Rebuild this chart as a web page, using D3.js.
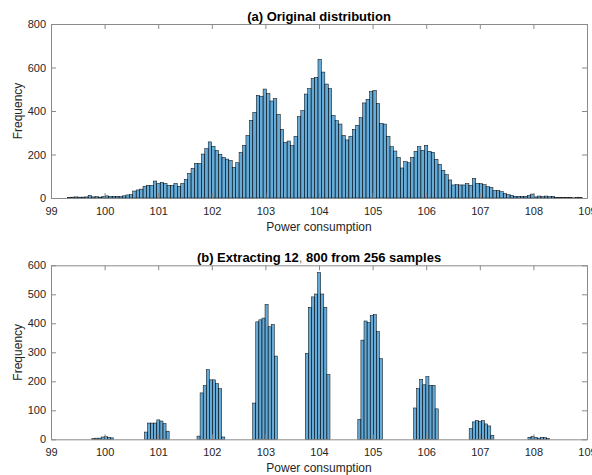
<!DOCTYPE html>
<html>
<head>
<meta charset="utf-8">
<script src="https://cdn.jsdelivr.net/npm/d3@7"></script>
<style>
  body { margin: 0; background: #fff; }
  svg { display: block; font-family: "Liberation Sans", Arial, Helvetica, sans-serif; }
</style>
</head>
<body>
<div id="chart"></div>
<script>
const WIDTH = 592
const HEIGHT = 475
const LEFT = 51
const RIGHT = 587

// (a) original distribution, 150 equal bins
const origStart = 99.309
const origWidth = 0.064
const origCounts = [
  2, 4, 5, 4, 4, 5, 12, 5, 6, 4, 8, 10, 7, 8, 8, 7, 10, 14, 15,
  32, 37, 41, 54, 58, 58, 78, 67, 72, 67, 58, 58, 67, 54, 67, 86, 113, 136, 159, 159, 202,
  227, 258, 238, 219, 201, 187, 179, 173, 141, 162, 210, 242, 288, 357, 394, 472, 468, 501, 481, 446,
  457, 385, 316, 256, 262, 241, 284, 374, 402, 478, 503, 549, 555, 638, 579, 524, 503, 380, 356, 340,
  288, 267, 284, 316, 334, 369, 437, 454, 490, 495, 435, 343, 340, 284, 236, 216, 187, 138, 167, 162,
  187, 215, 236, 219, 242, 215, 210, 178, 155, 127, 107, 83, 60, 61, 60, 60, 66, 58, 90, 67,
  66, 61, 52, 49, 34, 34, 29, 21, 15, 12, 8, 8, 8, 8, 12, 18, 5, 9, 6, 9,
  6, 8, 3, 3, 2, 2, 2, 1, 2, 3
]

// (b) 12,800 values drawn from 256 samples
const extStart = 99.762
const extWidth = 0.0577
const extCounts = [
  3, 4, 4, 8, 9, 7, 5, 0, 0, 0, 0, 0, 0, 0, 0, 0, 0,
  25, 56, 56, 56, 67, 63, 54, 28, 0, 0, 0, 0, 0, 0, 0, 0, 0,
  11, 160, 185, 240, 205, 205, 192, 175, 8, 0, 0, 0, 0, 0, 0, 0, 0, 0,
  125, 405, 412, 418, 465, 388, 396, 287, 0, 0, 0, 0, 0, 0, 0, 0, 0,
  296, 455, 491, 501, 575, 501, 455, 223, 0, 0, 0, 0, 0, 0, 0, 0, 0,
  69, 342, 408, 402, 427, 430, 371, 278, 0, 0, 0, 0, 0, 0, 0, 0, 0, 0,
  108, 175, 207, 188, 216, 186, 186, 105, 0, 0, 0, 0, 0, 0, 0, 0, 0, 0,
  37, 60, 65, 61, 64, 53, 46, 14, 0, 0, 0, 0, 0, 0, 0, 0, 0, 0, 0,
  7, 10, 7, 4, 6, 6, 3
]

const xTicks = [99, 100, 101, 102, 103, 104, 105, 106, 107, 108, 109]
const origYTicks = [0, 200, 400, 600, 800]
const extYTicks = [0, 100, 200, 300, 400, 500, 600]

const svg = d3.select("#chart")
  .append("svg")
    .attr("width", WIDTH)
    .attr("height", HEIGHT)

const panels = [
  { title: ["(a) Original distribution"], counts: origCounts, start: origStart, width: origWidth,
    yTicks: origYTicks, top: 24, bottom: 198 },
  { title: ["(b) Extracting 12", ",", " 800 from 256 samples"], counts: extCounts, start: extStart, width: extWidth,
    yTicks: extYTicks, top: 265.3, bottom: 439.3 }
]

panels.forEach(p => drawPanel(p))

function drawPanel(p) {
  const x = d3.scaleLinear().domain([99, 109]).range([LEFT, RIGHT])
  const y = d3.scaleLinear().domain([0, d3.max(p.yTicks)]).range([p.bottom, p.top])
  const g = svg.append("g")

  const bins = p.counts.map((c, i) => ({ c, x0: p.start + i * p.width, x1: p.start + (i + 1) * p.width }))
    .filter(d => d.c > 0)

  g.selectAll("rect.bar")
    .data(bins)
    .enter().append("rect")
      .attr("class", "bar")
      .attr("x", d => x(d.x0))
      .attr("width", d => x(d.x1) - x(d.x0))
      .attr("y", d => y(d.c))
      .attr("height", d => y(0) - y(d.c))
      .attr("fill", "rgb(0,114,189)")
      .attr("fill-opacity", 0.6)
      .attr("stroke", "#000")
      .attr("stroke-width", 0.5)

  // box with inward ticks on all four sides
  const axisColor = "#8a8a8a"
  const bottomAxis = g.append("g")
    .attr("transform", `translate(0, ${p.bottom})`)
    .call(d3.axisBottom(x).tickValues(xTicks).tickSize(-5).tickSizeOuter(0).tickPadding(9).tickFormat(d3.format("d")))
  const topAxis = g.append("g")
    .attr("transform", `translate(0, ${p.top})`)
    .call(d3.axisTop(x).tickValues(xTicks).tickSize(-5).tickSizeOuter(0).tickFormat(""))
  const leftAxis = g.append("g")
    .attr("transform", `translate(${LEFT}, 0)`)
    .call(d3.axisLeft(y).tickValues(p.yTicks).tickSize(-5).tickSizeOuter(0).tickPadding(5))
  const rightAxis = g.append("g")
    .attr("transform", `translate(${RIGHT}, 0)`)
    .call(d3.axisRight(y).tickValues(p.yTicks).tickSize(-5).tickSizeOuter(0).tickFormat(""))

  ;[bottomAxis, topAxis, leftAxis, rightAxis].forEach(a => {
    a.attr("color", axisColor)
    a.selectAll("text")
      .attr("fill", "#262626")
      .attr("font-size", 11)
      .attr("font-family", "Liberation Sans, Arial, sans-serif")
  })

  g.append("text")
    .attr("x", (LEFT + RIGHT) / 2)
    .attr("y", p.bottom + 32.5)
    .attr("font-size", 12)
    .attr("fill", "#262626")
    .attr("text-anchor", "middle")
    .text("Power consumption")

  g.append("text")
    .attr("transform", `translate(22, ${(p.top + p.bottom) / 2}) rotate(-90)`)
    .attr("font-size", 12)
    .attr("fill", "#262626")
    .attr("text-anchor", "middle")
    .text("Frequency")

  const title = g.append("text")
    .attr("x", (LEFT + RIGHT) / 2)
    .attr("y", p.top - 3)
    .attr("font-size", 13)
    .attr("font-weight", "bold")
    .attr("fill", "#000")
    .attr("text-anchor", "middle")
  title.selectAll("tspan")
    .data(p.title)
    .enter().append("tspan")
      .attr("font-weight", d => d === "," ? "normal" : "bold")
      .attr("fill", d => d === "," ? "#777" : "#000")
      .text(d => d)
}
</script>
</body>
</html>
